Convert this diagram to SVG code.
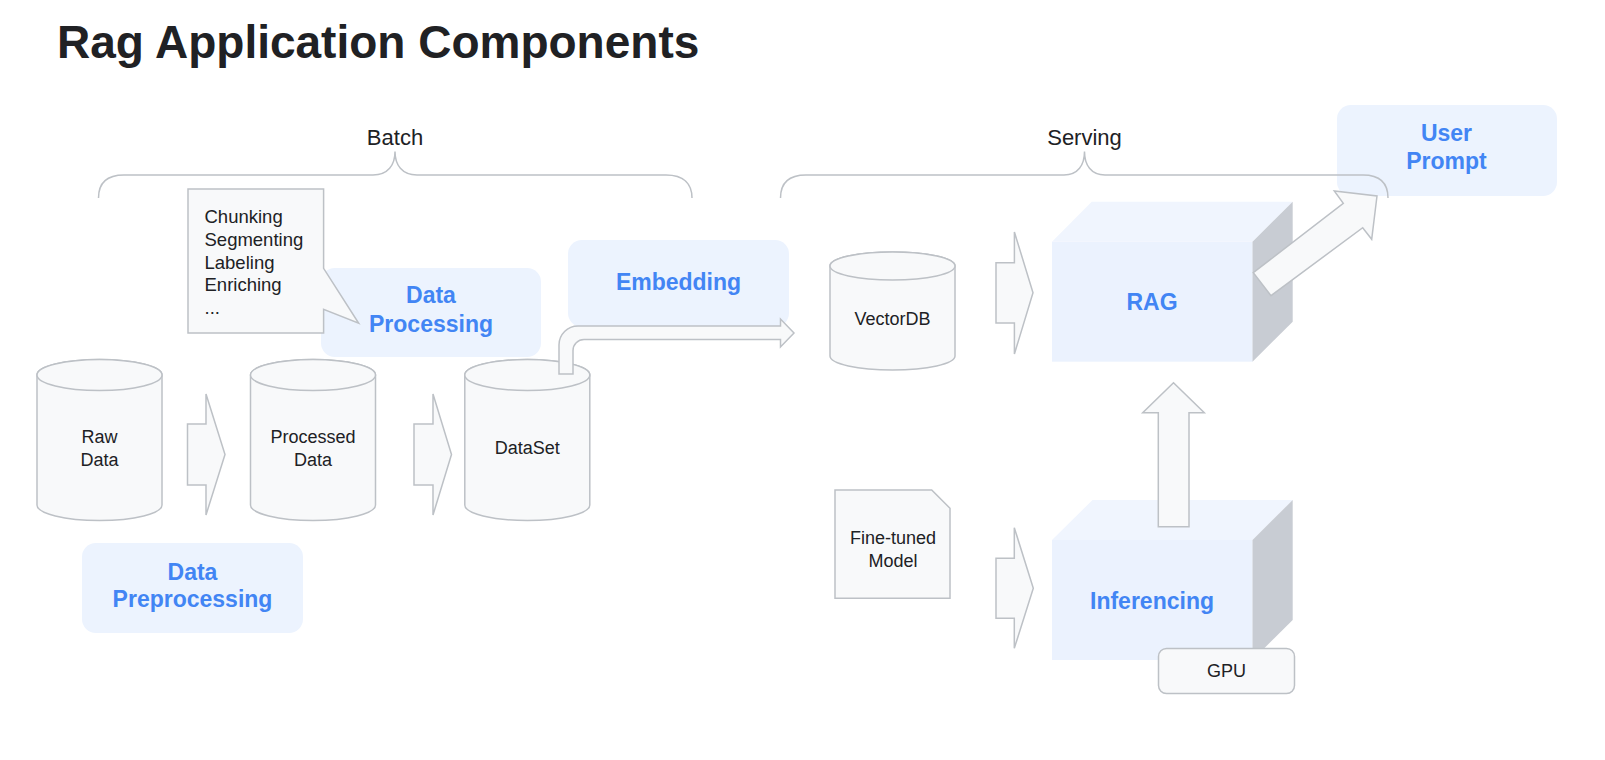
<svg xmlns="http://www.w3.org/2000/svg" width="1605" height="760" viewBox="0 0 1605 760">
<style>
text{font-family:"Liberation Sans",Arial,sans-serif}
.title{font-size:46px;font-weight:700;fill:#202124}
.hdr{font-size:22px;fill:#202124;text-anchor:middle}
.lbl{font-size:18px;fill:#202124;text-anchor:middle}
.note{font-size:18.5px;fill:#202124}
.blue{font-size:23px;font-weight:700;fill:#4285F4;text-anchor:middle}
.stage{fill:#ECF3FE}
.shape{fill:#F8F9FA;stroke:#BDC1C6;stroke-width:1.5}
.brace{fill:none;stroke:#BDC1C6;stroke-width:1.5}
.face{fill:#EBF2FE}
.top{fill:#F0F5FE}
.side{fill:#C8CCD3}
</style>
<rect width="1605" height="760" fill="#ffffff"/>
<text class="title" x="57" y="58">Rag Application Components</text>

<g id="batch-brace">
<path class="brace" d="M98.5 198 C98.5 184 106 175 124 175 L373 175 C388 175 395 165 395 151.5 C395 165 402 175 417 175 L666 175 C684 175 692 184 692 198"/>
<text class="hdr" x="395" y="145">Batch</text>
</g>

<g id="data-preprocessing">
<rect class="stage" x="82" y="543" width="221" height="90" rx="14"/>
<text class="blue" x="192.5" y="579.5">Data</text>
<text class="blue" x="192.5" y="606.5">Preprocessing</text>
</g>

<g id="data-processing">
<rect class="stage" x="321" y="268" width="220" height="89" rx="14"/>
<text class="blue" x="431" y="303">Data</text>
<text class="blue" x="431" y="331.5">Processing</text>
</g>

<g id="embedding">
<rect class="stage" x="568" y="240" width="221" height="87" rx="14"/>
<text class="blue" x="678.5" y="289.5">Embedding</text>
</g>

<g id="processing-steps">
<path class="shape" d="M188 189 L323.6 189 L323.6 268.3 L358.7 323.3 L323.6 309.3 L323.6 333 L188 333 Z"/>
<text class="note" x="204.5" y="223.3">Chunking</text>
<text class="note" x="204.5" y="246">Segmenting</text>
<text class="note" x="204.5" y="268.5">Labeling</text>
<text class="note" x="204.5" y="291">Enriching</text>
<text class="note" x="204.5" y="313.5">...</text>
</g>

<g id="raw-data">
<path class="shape" d="M37 375 A62.5 15.5 0 0 1 162 375 L162 505 A62.5 15.5 0 0 1 37 505 Z"/>
<ellipse class="shape" cx="99.5" cy="375" rx="62.5" ry="15.5"/>
<text class="lbl" x="99.5" y="443">Raw</text>
<text class="lbl" x="99.5" y="465.5">Data</text>
</g>

<g id="processed-data">
<path class="shape" d="M250.5 375 A62.5 15.5 0 0 1 375.5 375 L375.5 505 A62.5 15.5 0 0 1 250.5 505 Z"/>
<ellipse class="shape" cx="313" cy="375" rx="62.5" ry="15.5"/>
<text class="lbl" x="313" y="443">Processed</text>
<text class="lbl" x="313" y="465.5">Data</text>
</g>

<g id="dataset">
<path class="shape" d="M464.8 375 A62.5 15.5 0 0 1 589.8 375 L589.8 505 A62.5 15.5 0 0 1 464.8 505 Z"/>
<ellipse class="shape" cx="527.3" cy="375" rx="62.5" ry="15.5"/>
<text class="lbl" x="527.3" y="454">DataSet</text>
</g>

<g id="user-prompt">
<rect class="stage" x="1337" y="105" width="220" height="91" rx="14"/>
<text class="blue" x="1446.5" y="140.5">User</text>
<text class="blue" x="1446.5" y="168.5">Prompt</text>
</g>

<g id="serving-brace">
<path class="brace" d="M780.5 198 C780.5 184 788 175 806 175 L1064 175 C1078 175 1084.5 165 1084.5 151.5 C1084.5 165 1091 175 1105 175 L1363 175 C1381 175 1388 184 1388 198"/>
<text class="hdr" x="1084.5" y="145">Serving</text>
</g>

<g id="vectordb">
<path class="shape" d="M830 266 A62.5 14 0 0 1 955 266 L955 356 A62.5 14 0 0 1 830 356 Z"/>
<ellipse class="shape" cx="892.5" cy="266" rx="62.5" ry="14"/>
<text class="lbl" x="892.5" y="324.5">VectorDB</text>
</g>

<g id="rag">
<rect class="face" x="1052" y="241.7" width="200.5" height="120"/>
<polygon class="top" points="1052,241.7 1091.7,201.7 1292.7,201.7 1252.5,241.7"/>
<polygon class="side" points="1252.5,241.7 1292.7,201.7 1292.7,321.7 1252.5,361.7"/>
<text class="blue" x="1152" y="309.5">RAG</text>
</g>

<g id="fine-tuned-model">
<path class="shape" d="M835 490 L931.7 490 L950 508.3 L950 598.3 L835 598.3 Z"/>
<text class="lbl" x="893" y="544">Fine-tuned</text>
<text class="lbl" x="893" y="566.5">Model</text>
</g>

<g id="inferencing">
<rect class="face" x="1052" y="540" width="200.5" height="120"/>
<polygon class="top" points="1052,540 1092.5,500 1292.7,500 1252.5,540"/>
<polygon class="side" points="1252.5,540 1292.7,500 1292.7,620 1252.5,660"/>
<text class="blue" x="1152" y="608.5">Inferencing</text>
</g>

<g id="gpu">
<rect class="shape" x="1158.5" y="648.5" width="136" height="45" rx="8"/>
<text class="lbl" x="1226.5" y="677">GPU</text>
</g>

<g id="connectors">
<polygon class="shape" points="187.5,424 206,424 206,394 225,454.5 206,515 206,485 187.5,485"/>
<polygon class="shape" points="414,424 433,424 433,394 451.5,454.5 433,515 433,485 414,485"/>
<path class="shape" d="M559 374 L559 345 A19 19 0 0 1 578 326 L780.5 326 L780.5 319 L794 333 L780.5 347 L780.5 339.5 L584 339.5 A11 11 0 0 0 573 350.5 L573 374 Z"/>
<polygon class="shape" points="996,262.7 1014.4,262.7 1014.4,232 1033,292.7 1014.4,354 1014.4,323 996,323"/>
<polygon class="shape" points="996,558.3 1014.3,558.3 1014.3,527.7 1033.3,588.3 1014.3,648.3 1014.3,618.3 996,618.3"/>
<polygon class="shape" points="1158.3,526.7 1158.3,412.7 1142.7,412.7 1173.5,382.7 1204.3,412.7 1189,412.7 1189,526.7"/>
<polygon class="shape" points="1253.3,272.7 1343.3,203.3 1334.3,191 1377,196 1371.7,239.3 1362.7,227.7 1271,295.7"/>
</g>
</svg>
